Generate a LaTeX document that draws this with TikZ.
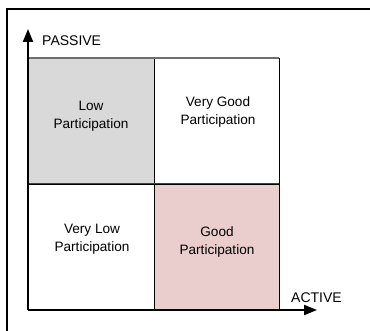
\documentclass[tikz,border=0pt]{standalone}
\usepackage{fontspec}
\setmainfont{Liberation Sans}
\usetikzlibrary{arrows.meta}
\definecolor{cellgray}{RGB}{217,217,217}
\definecolor{cellpink}{RGB}{234,205,205}
\definecolor{gridgray}{RGB}{110,110,110}
\tikzset{
  cell/.style={draw=black, line width=0.9pt, minimum width=126pt, minimum height=126pt, inner sep=0pt, outer sep=0pt},
  celltext/.style={font=\fontsize{13.6}{18}\selectfont, align=center, inner sep=0pt},
  axislabel/.style={font=\fontsize{14}{16}\selectfont, inner sep=0pt},
  axis/.style={line width=2pt, -{Triangle[length=13pt,width=10pt]}},
}
\begin{document}
\begin{tikzpicture}[x=1pt,y=-1pt]
\useasboundingbox (0,0) rectangle (370,331);
% outer frame
\draw[line width=2pt] (7,9) rectangle (380,345);
% cells
\node[cell, fill=cellgray, minimum width=126pt] (tl) at (91,121) {};
\node[cell, fill=white, minimum width=125pt] (tr) at (216.5,121) {};
\node[cell, fill=white, minimum width=126pt] (bl) at (91,247) {};
\node[cell, fill=cellpink, minimum width=125pt] (br) at (216.5,247) {};
% grid top line in gray
\draw[gridgray, line width=1.6pt] (tl.north west) -- (tr.north east);
\draw[gridgray!60!black, line width=1pt] (bl.north west) -- (br.north east);
% texts
\node[celltext] (ttl) at (91,116) {Low\\Participation};
\node[celltext] (ttr) at (218,111.5) {Very Good\\Participation};
\node[celltext] (tbl) at (92,239) {Very Low\\Participation};
\node[celltext] (tbr) at (217,242) {Good\\Participation};
% axes
\coordinate (o) at (28,310);
\coordinate (ytop) at (28,29);
\coordinate (xend) at (317,310);
\draw[axis] (o) -- (ytop);
\draw[axis] (o) -- (xend);
\node[axislabel, anchor=west] (passive) at (42,41) {PASSIVE};
\node[axislabel, anchor=west] (active) at (291,298) {ACTIVE};
\end{tikzpicture}
\end{document}
